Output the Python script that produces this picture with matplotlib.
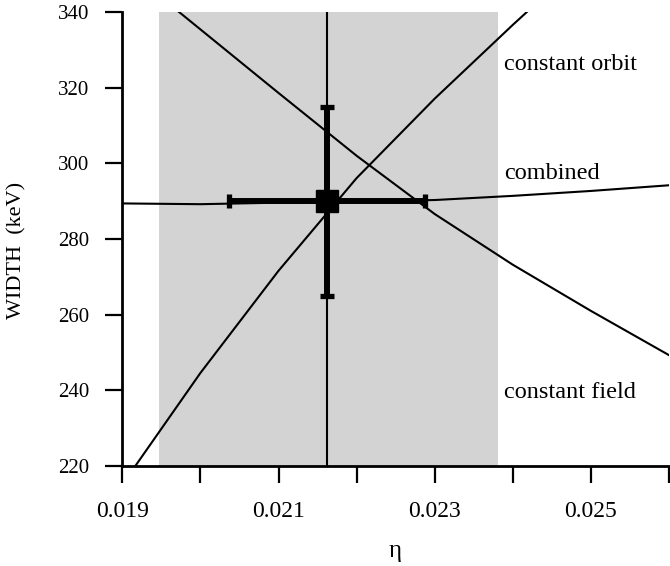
import numpy as np
import matplotlib
matplotlib.use('Agg')
import matplotlib.pyplot as plt

plt.rcParams['font.family'] = ['Liberation Serif', 'DejaVu Serif']

# eta grid used for the three curves
eta = [0.019, 0.020, 0.021, 0.022, 0.023, 0.024, 0.025, 0.026]

# width vs eta
width_rising = [215.1, 244.6, 271.6, 296.1, 317.1, 336.6, 355.5, 374.0]
width_falling = [352.2, 335.4, 318.6, 302.0, 286.6, 273.2, 261.0, 249.3]
width_combined = [289.4, 289.2, 289.6, 289.9, 290.3, 291.4, 292.7, 294.2]

# allowed eta band (gray) and best estimate with errors
band = [0.01947, 0.02381]
eta_best = 0.02162
eta_err = 0.00126
width_best = 290.0
width_err = 25.0

labels = ['constant orbit', 'combined', 'constant field']
label_y = [326.0, 297.4, 239.3]
label_x = 0.02389

fig = plt.figure(figsize=(6.7, 5.66), dpi=100)
ax = fig.add_axes([0.1826, 0.1767, 0.8159, 0.8021])

ax.axvspan(band[0], band[1], color='#d3d3d3', lw=0, zorder=0)

lw = 1.5
ax.plot(eta, width_rising, color='black', lw=lw, zorder=2)
ax.plot(eta, width_falling, color='black', lw=lw, zorder=2)
ax.plot(eta, width_combined, color='black', lw=lw, zorder=2)
ax.axvline(eta_best, color='black', lw=lw, zorder=2)

ax.errorbar(eta_best, width_best, xerr=eta_err, yerr=width_err,
            fmt='s', color='black', ms=16.5, elinewidth=4.3,
            capsize=4.7, capthick=3.8, zorder=4)

for t, y in zip(labels, label_y):
    ax.text(label_x, y, t, fontsize=17.5, va='center', ha='left')

ax.set_xlim(0.019, 0.026)
ax.set_ylim(220, 340)
ax.set_xticks([0.019, 0.020, 0.021, 0.022, 0.023, 0.024, 0.025, 0.026])
ax.set_xticklabels(['0.019', '', '0.021', '', '0.023', '', '0.025', ''])
ax.set_yticks([220, 240, 260, 280, 300, 320, 340])

for s in ['top', 'right']:
    ax.spines[s].set_visible(False)
for s in ['left', 'bottom']:
    ax.spines[s].set_linewidth(2)

ax.tick_params(axis='both', direction='out', length=12, width=1.6)
ax.tick_params(axis='x', pad=13, labelsize=17)
ax.tick_params(axis='y', pad=12, labelsize=15)

fig.text(0.0254, 1 - 250 / 566, 'WIDTH  (keV)', rotation=90,
         ha='center', va='center', fontsize=16)
fig.text(0.5903, 1 - 551 / 566, '\u03b7', ha='center', va='center',
         fontsize=18)

fig.savefig('out.png', dpi=100)
